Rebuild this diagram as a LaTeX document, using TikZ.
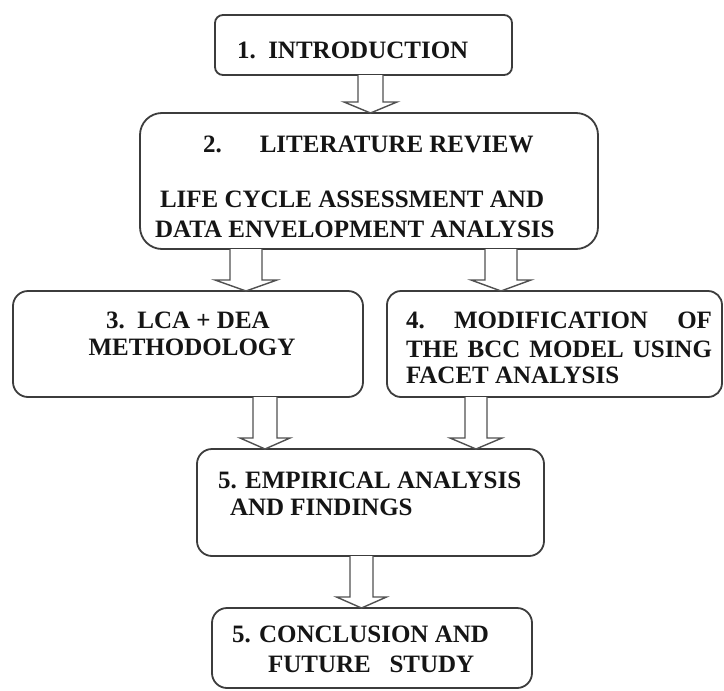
\documentclass[tikz,border=0pt]{standalone}
\usepackage{fontspec}
\setmainfont{Liberation Serif}
\usetikzlibrary{calc}
\definecolor{edge}{HTML}{3C3C3C}
\definecolor{arr}{HTML}{505050}
\definecolor{ink}{HTML}{151515}
\tikzset{
  box/.style={draw=edge, line width=1.8pt, rounded corners=#1, inner sep=0pt, outer sep=0pt, fill=white},
  box/.default=14pt,
  lbl/.style={anchor=base west, inner sep=0pt, outer sep=0pt, text=ink, font=\fontsize{25}{30}\selectfont\bfseries},
  barrow/.style={draw=arr, line width=1.4pt, line join=miter, fill=white},
}
\newcommand\blockarrow[5]{%
  \draw[barrow] let \p1=(#1.south), \p2=(#2.north) in
    ({#3pt-#4pt},\y1) -- ({#3pt-#4pt},{\y2+11pt}) -- ({#3pt-#5pt},{\y2+11pt})
    -- ({#3pt},\y2) -- ({#3pt+#5pt},{\y2+11pt}) -- ({#3pt+#4pt},{\y2+11pt})
    -- ({#3pt+#4pt},\y1);%
}
\begin{document}
\begin{tikzpicture}[x=1pt,y=-1pt]
\useasboundingbox[fill=white] (0,0) rectangle (724,691);
% boxes
\node[box=8pt,  minimum width=297pt, minimum height=60pt]  (b1) at (363.5,45) {};
\node[box=22pt, minimum width=458pt, minimum height=136pt] (b2) at (369,181) {};
\node[box=15pt, minimum width=350pt, minimum height=106pt] (b3) at (188,344) {};
\node[box=14pt, minimum width=335pt, minimum height=106pt] (b4) at (554.5,344) {};
\node[box=15pt, minimum width=347pt, minimum height=107pt] (b5) at (370.5,502.5) {};
\node[box=15pt, minimum width=320pt, minimum height=80pt]  (b6) at (372,648) {};
% arrows
\blockarrow{b1}{b2}{370.5}{12.5}{26.5}
\blockarrow{b2}{b3}{246}{16}{31}
\blockarrow{b2}{b4}{501}{16}{30}
\blockarrow{b3}{b5}{265}{12}{25}
\blockarrow{b4}{b5}{476}{11}{26}
\blockarrow{b5}{b6}{361.5}{11.5}{25}
% texts
\node[lbl] (t1) at (237,58) {1.\ \ INTRODUCTION};
\node[lbl] (t2a) at (203,152) {2.\hspace{38pt}LITERATURE REVIEW};
\node[lbl] (t2b) at (160,207) {LIFE CYCLE ASSESSMENT AND};
\node[lbl] (t2c) at (155,237) {DATA ENVELOPMENT ANALYSIS};
\node[lbl, anchor=base] (t3a) at (188,328) {3.\ \ LCA + DEA};
\node[lbl, anchor=base] (t3b) at (192,355) {METHODOLOGY};
\node[lbl] (t4a) at (406,328) {\makebox[306pt][s]{4.\ \ MODIFICATION\ \ OF}};
\node[lbl] (t4b) at (406,357) {\makebox[306pt][s]{THE BCC MODEL USING}};
\node[lbl] (t4c) at (406,383) {FACET ANALYSIS};
\node[lbl] (t5a) at (218,488) {5. EMPIRICAL ANALYSIS};
\node[lbl] (t5b) at (230,515) {AND FINDINGS};
\node[lbl] (t6a) at (232,642) {5. CONCLUSION AND};
\node[lbl] (t6b) at (268,672) {FUTURE\ \ \ STUDY};
\end{tikzpicture}
\end{document}
